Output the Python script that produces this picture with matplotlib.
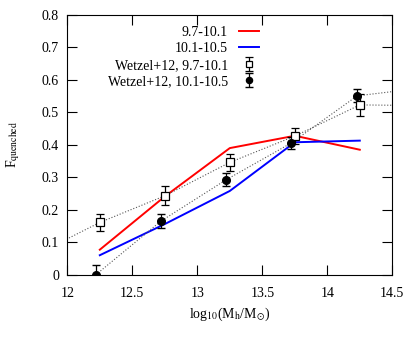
import matplotlib
matplotlib.use("Agg")
import matplotlib.pyplot as plt

plt.rcParams['font.family'] = ['Liberation Serif', 'DejaVu Serif']
plt.rcParams['mathtext.fontset'] = 'stix'

# model curves
mh = [12.25, 12.75, 13.25, 13.75, 14.25]
fq_low = [0.077, 0.241, 0.390, 0.428, 0.385]
fq_high = [0.060, 0.156, 0.258, 0.408, 0.413]

# Wetzel+12 data (points outside the range only feed the dotted lines)
w_low_x = [11.75, 12.25, 12.75, 13.25, 13.75, 14.25, 14.75]
w_low_y = [0.060, 0.161, 0.243, 0.346, 0.427, 0.523, 0.521]
w_low_err = [0.03, 0.027, 0.029, 0.026, 0.025, 0.035, 0.03]
w_high_x = [12.22, 12.72, 13.22, 13.72, 14.23, 14.73]
w_high_y = [0.0, 0.165, 0.292, 0.405, 0.551, 0.575]
w_high_err = [0.03, 0.022, 0.020, 0.018, 0.020, 0.02]

fig = plt.figure(figsize=(4.15, 3.46), dpi=100)
ax = fig.add_axes([67.3/415, 1 - 274.7/346, 325/415, 259.7/346])

ax.plot(mh, fq_low, color='red', lw=1.4, label='9.7-10.1')
ax.plot(mh, fq_high, color='blue', lw=1.4, label='10.1-10.5')

ax.plot(w_low_x, w_low_y, ':', color='#555555', lw=0.8)
ax.plot(w_high_x, w_high_y, ':', color='#555555', lw=0.8)
ax.errorbar(w_low_x, w_low_y, yerr=w_low_err, fmt='s', mfc='white', mec='black',
            ms=5.5, mew=0.9, ecolor='black', elinewidth=0.9, capsize=3,
            label='Wetzel+12, 9.7-10.1')
ax.errorbar(w_high_x, w_high_y, yerr=w_high_err, fmt='o', color='black',
            ms=5.5, ecolor='black', elinewidth=0.9, capsize=3,
            label='Wetzel+12, 10.1-10.5')

ax.set_xlim(12, 14.5)
ax.set_ylim(0, 0.8)
ax.set_xticks([12, 12.5, 13, 13.5, 14, 14.5])
ax.set_xticklabels(['12', '12.5', '13', '13.5', '14', '14.5'])
ax.set_yticks([0, 0.1, 0.2, 0.3, 0.4, 0.5, 0.6, 0.7, 0.8])
ax.set_yticklabels(['0', '0.1', '0.2', '0.3', '0.4', '0.5', '0.6', '0.7', '0.8'])
ax.tick_params(direction='in', top=True, right=True, length=7, width=0.8,
               labelsize=10, pad=6)
ax.tick_params(axis='x', pad=9)
ax.set_xlabel(r'log$_{10}$(M$_{\rm h}$/M$_{\odot}$)', fontsize=10, labelpad=4)
ax.set_ylabel(r'F$_{\rm quenched}$', fontsize=10, labelpad=14)

leg = ax.legend(loc='upper left', bbox_to_anchor=(0.108, 0.98), frameon=False,
                markerfirst=False, fontsize=10, handlelength=1.4,
                handletextpad=0.8, labelspacing=0.25, borderaxespad=0,
                markerscale=0.8)

fig.savefig('out.png', dpi=100)
